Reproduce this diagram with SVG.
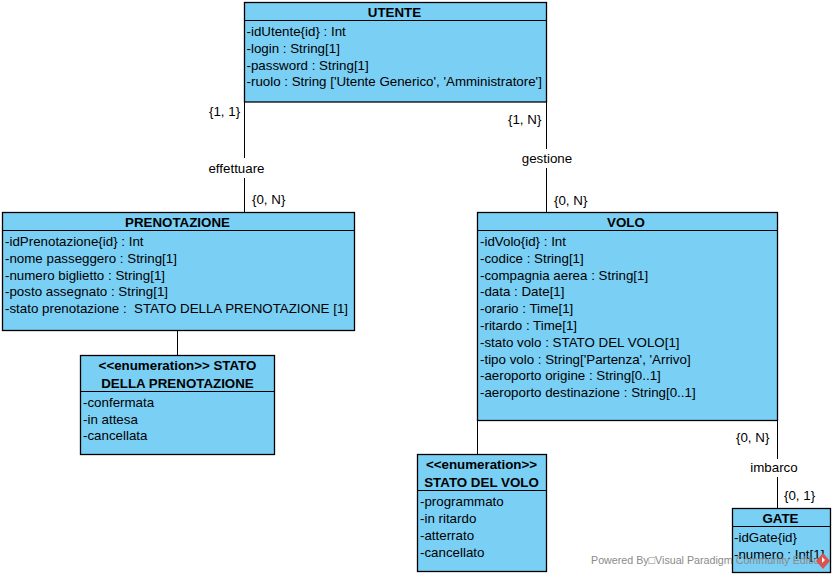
<svg xmlns="http://www.w3.org/2000/svg" width="835" height="577" viewBox="0 0 835 577">
<style>
text{font-family:"Liberation Sans",Arial,sans-serif;font-size:13.33px;fill:#000}
.b{fill:#7acff5;stroke:#000;stroke-width:1.3}
.l{stroke:#000;stroke-width:1;fill:none}
.t{font-weight:bold;text-anchor:middle;font-size:13.33px}
.m{text-anchor:middle}
</style>
<rect width="835" height="577" fill="#fff"/>
<g id="connectors">
<path class="l" d="M244.500 102V158M244.500 178V212M546.500 102V149M546.500 168V212M177.500 331V355M477.500 420V454M777.500 420V459M777.500 477V508"/>
<text x="209" y="116">{1, 1}</text><text x="508" y="124">{1, N}</text>
<text class="m" x="236.500" y="173">effettuare</text><text class="m" x="547" y="163">gestione</text>
<text x="252" y="204">{0, N}</text><text x="554" y="205">{0, N}</text>
<text x="736" y="442">{0, N}</text><text class="m" x="774" y="472">imbarco</text><text x="784" y="500">{0, 1}</text>
</g>
<g id="utente"><rect class="b" x="244.500" y="2.500" width="302" height="99.500"/><path class="l" d="M244.500 20.500H546.500"/>
<text class="t" x="394.500" y="17">UTENTE</text>
<text x="246.500" y="36">-idUtente{id} : Int</text><text x="246.500" y="53">-login : String[1]</text><text x="246.500" y="70">-password : String[1]</text><text x="246.500" y="86">-ruolo : String ['Utente Generico', 'Amministratore']</text></g>
<g id="prenotazione"><rect class="b" x="2.500" y="212.500" width="352" height="118"/><path class="l" d="M2.500 230.500H354.500"/>
<text class="t" x="177.500" y="227">PRENOTAZIONE</text>
<text x="5" y="246">-idPrenotazione{id} : Int</text><text x="5" y="263">-nome passeggero : String[1]</text><text x="5" y="280">-numero biglietto : String[1]</text><text x="5" y="296">-posto assegnato : String[1]</text><text x="5" y="313" xml:space="preserve" textLength="343">-stato prenotazione :  STATO DELLA PRENOTAZIONE [1]</text></g>
<g id="stato-prenotazione"><rect class="b" x="80.500" y="355.500" width="194" height="99"/><path class="l" d="M80.500 391.500H274.500"/>
<text class="t" x="177.500" y="370">&lt;&lt;enumeration&gt;&gt; STATO</text><text class="t" x="177.500" y="388">DELLA PRENOTAZIONE</text>
<text x="83" y="407">-confermata</text><text x="83" y="424">-in attesa</text><text x="83" y="440">-cancellata</text></g>
<g id="volo"><rect class="b" x="477.500" y="212.500" width="300" height="208"/><path class="l" d="M477.500 230.500H777.500"/>
<text class="t" x="626" y="227">VOLO</text>
<text x="480" y="246">-idVolo{id} : Int</text><text x="480" y="263">-codice : String[1]</text><text x="480" y="280">-compagnia aerea : String[1]</text><text x="480" y="296">-data : Date[1]</text><text x="480" y="313">-orario : Time[1]</text><text x="480" y="330">-ritardo : Time[1]</text><text x="480" y="347">-stato volo : STATO DEL VOLO[1]</text><text x="480" y="364">-tipo volo : String['Partenza', 'Arrivo]</text><text x="480" y="380">-aeroporto origine : String[0..1]</text><text x="480" y="397">-aeroporto destinazione : String[0..1]</text></g>
<g id="stato-volo"><rect class="b" x="417.500" y="454.500" width="129" height="117"/><path class="l" d="M417.500 490.500H546.500"/>
<text class="t" x="481.500" y="469">&lt;&lt;enumeration&gt;&gt;</text><text class="t" x="481.500" y="487">STATO DEL VOLO</text>
<text x="420" y="506">-programmato</text><text x="420" y="523">-in ritardo</text><text x="420" y="540">-atterrato</text><text x="420" y="557">-cancellato</text></g>
<g id="gate"><rect class="b" x="732.500" y="508.500" width="98" height="64"/><path class="l" d="M732.500 526.500H830.500"/>
<text class="t" x="780.500" y="523">GATE</text>
<text x="734" y="542">-idGate{id}</text><text x="734" y="559">-numero : Int[1]</text></g>
<g id="watermark"><text x="591" y="564" style="font-size:10.7px;fill:#8a8a8a">Powered By□Visual Paradigm Community Edition</text>
<path d="M823 553l7 8-7 8-7-8z" fill="#d9534f"/><path d="M822 557l3 3-3 3z" fill="#fff"/></g>
</svg>
